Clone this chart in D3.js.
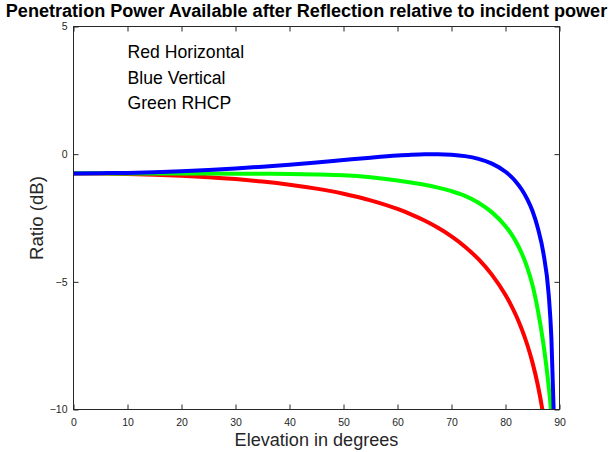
<!DOCTYPE html>
<html>
<head>
<meta charset="utf-8">
<script src="https://cdn.jsdelivr.net/npm/d3@7"></script>
<style>
body { margin: 0; background: #fff; }
text { font-family: "Liberation Sans", Arial, Helvetica, sans-serif; }
</style>
</head>
<body>
<script>
const w = 610;
const h = 452;

// elevation angles (degrees) and the three curves
const degrees    = [0, 5, 10, 15, 20, 25, 30, 35, 40, 45, 50, 55, 60, 62.5, 65, 67.5, 70, 72.5, 75, 77.5, 80, 81, 82, 83, 84, 85, 86, 87, 88, 88.5, 89, 89.5];
const horizontal = [-0.755, -0.76, -0.777, -0.805, -0.846, -0.903, -0.977, -1.072, -1.194, -1.35, -1.55, -1.809, -2.147, -2.356, -2.599, -2.883, -3.22, -3.623, -4.114, -4.727, -5.516, -5.9, -6.34, -6.85, -7.445, -8.164, -9.061, -10.24, -11.93, -13.1, -14.9, -17.5];
const vertical   = [-0.755, -0.745, -0.733, -0.706, -0.668, -0.619, -0.559, -0.489, -0.41, -0.322, -0.229, -0.137, -0.056, -0.025, -0.005, -0.001, -0.021, -0.076, -0.183, -0.37, -0.688, -0.87, -1.097, -1.383, -1.748, -2.224, -2.9, -3.85, -5.5, -7.2, -10.6, -15];
const rhcp       = [-0.75, -0.75, -0.755, -0.755, -0.76, -0.762, -0.765, -0.77, -0.775, -0.795, -0.83, -0.905, -1.03, -1.11, -1.2, -1.31, -1.45, -1.63, -1.9, -2.28, -2.82, -3.1, -3.45, -3.88, -4.42, -5.12, -6.12, -7.4, -9.1, -10.2, -11.8, -14.5];

const xTicks = [0, 10, 20, 30, 40, 50, 60, 70, 80, 90];
const yTicks = [-10, -5, 0, 5];

const noteLabels = ["Red Horizontal", "Blue Vertical", "Green RHCP"];
const noteX = [10, 10, 10];
const noteY = [4, 3, 2];

const titleText = "Penetration Power Available after Reflection relative to incident power";
const xLabel = "Elevation in degrees";
const yLabel = "Ratio (dB)";

const plotLeft = 73.5, plotRight = 559.5, plotTop = 26.5, plotBottom = 409.5;
const axisColor = "#262626";

const xScale = d3.scaleLinear().domain([0, 90]).range([plotLeft, plotRight]);
const yScale = d3.scaleLinear().domain([-10, 5]).range([plotBottom, plotTop]);

const svg = d3.select("body")
  .append("svg")
  .attr("width", w)
  .attr("height", h);

svg.append("defs").append("clipPath")
  .attr("id", "plot-clip")
  .append("rect")
  .attr("x", plotLeft).attr("y", plotTop)
  .attr("width", plotRight - plotLeft).attr("height", plotBottom - plotTop);

// curves
const series = [
  {values: horizontal, color: "#ff0000"},
  {values: rhcp, color: "#00ff00"},
  {values: vertical, color: "#0000ff"}
];

const line = d3.line()
  .x(d => xScale(d[0]))
  .y(d => yScale(d[1]))
  .curve(d3.curveMonotoneX);

svg.append("g")
  .attr("clip-path", "url(#plot-clip)")
  .selectAll("path")
  .data(series)
  .enter()
  .append("path")
  .attr("fill", "none")
  .attr("stroke", d => d.color)
  .attr("stroke-width", 4)
  .attr("stroke-linejoin", "round")
  .attr("d", d => line(degrees.map((x, i) => [x, d.values[i]])));

// axes, ticks pointing inward on all four sides
const xAxis = d3.axisBottom(xScale).tickValues(xTicks).tickSizeInner(-5).tickSizeOuter(0).tickPadding(9);
const yAxis = d3.axisLeft(yScale).tickValues(yTicks).tickSizeInner(-5).tickSizeOuter(0).tickPadding(6);
const xTop = d3.axisTop(xScale).tickValues(xTicks).tickSizeInner(-5).tickSizeOuter(0).tickFormat("");
const yRight = d3.axisRight(yScale).tickValues(yTicks).tickSizeInner(-5).tickSizeOuter(0).tickFormat("");

const gx = svg.append("g").attr("transform", "translate(0," + plotBottom + ")").call(xAxis);
const gy = svg.append("g").attr("transform", "translate(" + plotLeft + ",0)").call(yAxis);
const gt = svg.append("g").attr("transform", "translate(0," + plotTop + ")").call(xTop);
const gr = svg.append("g").attr("transform", "translate(" + plotRight + ",0)").call(yRight);

[gx, gy, gt, gr].forEach(g => {
  g.select(".domain").remove();
  g.selectAll(".tick line").attr("stroke", axisColor);
  g.selectAll(".tick text")
    .attr("fill", axisColor)
    .style("font-size", "10.5px")
    .style("font-family", "'Liberation Sans', Arial, sans-serif");
});

svg.append("rect")
  .attr("x", plotLeft).attr("y", plotTop)
  .attr("width", plotRight - plotLeft).attr("height", plotBottom - plotTop)
  .attr("fill", "none")
  .attr("stroke", axisColor)
  .attr("stroke-width", 1);

// scale a text so that its width matches the one in the picture
function fitWidth(sel, target) {
  sel.style("font-size", "10px");
  const len = sel.node().getComputedTextLength();
  sel.style("font-size", (10 * target / len) + "px");
  return sel;
}

const title = svg.append("text")
  .attr("x", 306.5)
  .attr("y", 17)
  .attr("text-anchor", "middle")
  .attr("font-weight", "bold")
  .attr("fill", "#000")
  .text(titleText);
fitWidth(title, 602);

const xl = svg.append("text")
  .attr("x", (plotLeft + plotRight) / 2)
  .attr("y", 446)
  .attr("text-anchor", "middle")
  .attr("fill", axisColor)
  .text(xLabel);
fitWidth(xl, 164);

const yl = svg.append("text")
  .attr("transform", "translate(43," + ((plotTop + plotBottom) / 2) + ") rotate(-90)")
  .attr("text-anchor", "middle")
  .attr("fill", axisColor)
  .text(yLabel);
fitWidth(yl, 84);

const notes = svg.selectAll(".note")
  .data(noteLabels)
  .enter()
  .append("text")
  .attr("class", "note")
  .attr("x", (d, i) => xScale(noteX[i]))
  .attr("y", (d, i) => yScale(noteY[i]))
  .attr("dy", "0.36em")
  .attr("fill", "#000")
  .text(d => d);
fitWidth(d3.select(notes.nodes()[0]), 116.7);
// keep the three notes on one size
notes.style("font-size", d3.select(notes.nodes()[0]).style("font-size"));
</script>
</body>
</html>
